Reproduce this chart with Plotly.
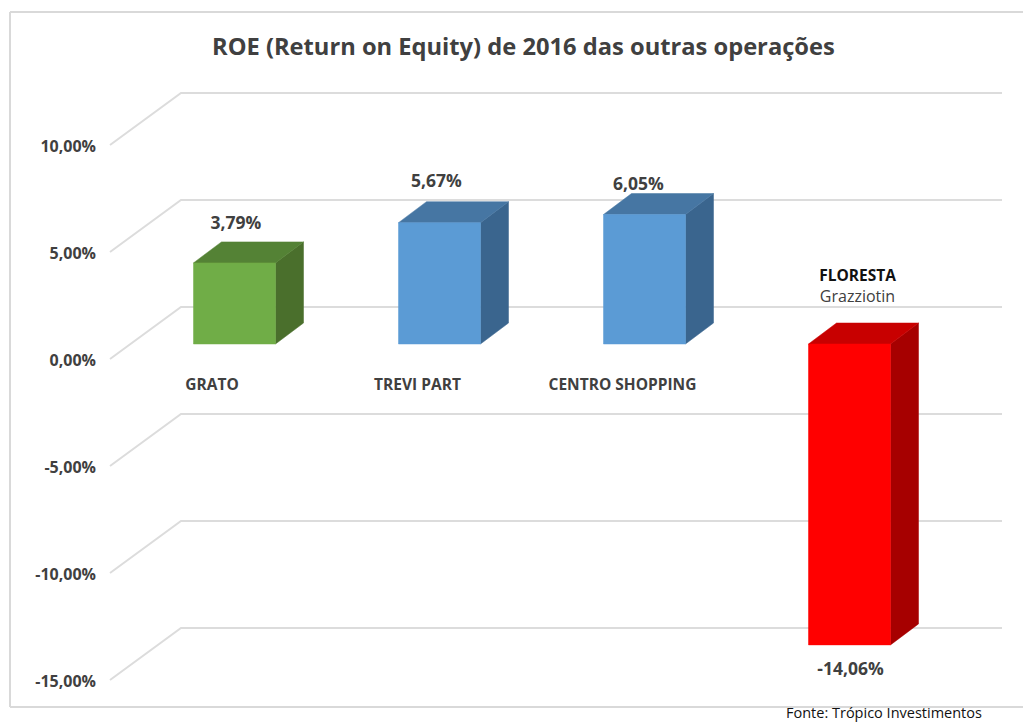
import plotly.graph_objects as go

# ---- data ----
categories = ["GRATO", "TREVI PART", "CENTRO SHOPPING", "FLORESTA"]
values = [3.79, 5.67, 6.05, -14.06]
value_labels = ["3,79%", "5,67%", "6,05%", "-14,06%"]
ticks = [10, 5, 0, -5, -10, -15]
tick_labels = ["10,00%", "5,00%", "0,00%", "-5,00%", "-10,00%", "-15,00%"]
front_colors = ["#70ad47", "#5b9bd5", "#5b9bd5", "#ff0000"]
top_colors = ["#548235", "#4676a3", "#4676a3", "#c80000"]
side_colors = ["#4a6f2c", "#3a658e", "#3a658e", "#a60000"]

# ---- scale of the page: 205 px per category, 21.4 px per percent ----
W, H = 1023, 722
PX_X, PX_Y = 205.0, 21.4
X0_PX, Y0_PX = 234.5, 344.0
dx = 1 / PX_X
dy = 1 / PX_Y
x_range = [-X0_PX * dx, (W - X0_PX) * dx]
y_range = [(Y0_PX - H) * dy, Y0_PX * dy]

BAR_HALF = 41 * dx
DEPTH_X, DEPTH_Y = 28 * dx, 21 * dy
GRID_FRONT_X, GRID_BACK_X, GRID_END_X = (110 - X0_PX) * dx, (181 - X0_PX) * dx, (1002 - X0_PX) * dx
GRID_FRONT_Y, GRID_BACK_Y = -15 * dy, 37 * dy

TXT = "#404040"
FONT = "Open Sans"
fig = go.Figure()

# gridlines on the floor/back wall
for t in ticks:
    fig.add_trace(go.Scatter(
        x=[GRID_FRONT_X, GRID_BACK_X, GRID_END_X],
        y=[t + GRID_FRONT_Y, t + GRID_BACK_Y, t + GRID_BACK_Y],
        mode="lines", line=dict(color="#dcdcdc", width=2), hoverinfo="skip"))


def face(xs, ys, color):
    fig.add_trace(go.Scatter(x=xs, y=ys, mode="lines", fill="toself", fillcolor=color,
                             line=dict(color=color, width=0.5), hoverinfo="skip"))


# 3D-looking bars
for i, v in enumerate(values):
    l, r = i - BAR_HALF, i + BAR_HALF
    hi = max(v, 0)
    lo = min(v, 0)
    face([r, r + DEPTH_X, r + DEPTH_X, r, r],
         [lo, lo + DEPTH_Y, hi + DEPTH_Y, hi, lo], side_colors[i])
    face([l, l + DEPTH_X, r + DEPTH_X, r, l],
         [hi, hi + DEPTH_Y, hi + DEPTH_Y, hi, hi], top_colors[i])
    face([l, r, r, l, l], [lo, lo, hi, hi, lo], front_colors[i])


def label(x, y, text, size, color=TXT, bold=True, pos="middle center"):
    t = f"<b>{text}</b>" if bold else text
    fig.add_trace(go.Scatter(x=[x], y=[y], mode="text", text=[t], textposition=pos,
                             textfont=dict(family=FONT, size=size, color=color),
                             hoverinfo="skip", cliponaxis=False))


# value-axis labels
for t, s in zip(ticks, tick_labels):
    label((96 - X0_PX) * dx, t + GRID_FRONT_Y - 3 * dy, s, 16, pos="middle left")

# data labels
label_gap_px = [17, 19, 8, 26]
label_shift_px = [1.5, -3, -6, 1]
for i, (v, s) in enumerate(zip(values, value_labels)):
    if v >= 0:
        y = v + DEPTH_Y + label_gap_px[i] * dy
    else:
        y = v - label_gap_px[i] * dy
    label(i + label_shift_px[i] * dx, y, s, 17.5)

# category labels
cat_shift_px = [-22.5, -22, -22, 8]
cat_y = (Y0_PX - 386) * dy
for i, c in enumerate(categories[:3]):
    label(i + cat_shift_px[i] * dx, cat_y, c, 15.5)
label(3 + cat_shift_px[3] * dx, (Y0_PX - 277) * dy, categories[3], 15.5, color="#111111")
label(3 + cat_shift_px[3] * dx, (Y0_PX - 298) * dy, "Grazziotin", 16, bold=False)

fig.update_layout(
    width=W, height=H, autosize=False,
    margin=dict(l=0, r=0, t=0, b=0),
    paper_bgcolor="white", plot_bgcolor="white", showlegend=False,
    xaxis=dict(visible=False, range=x_range, fixedrange=True),
    yaxis=dict(visible=False, range=y_range, fixedrange=True),
    annotations=[
        dict(text="<b>ROE (Return on Equity) de 2016 das outras operações</b>",
             x=523 / W, y=1 - 46 / H, xref="paper", yref="paper", showarrow=False,
             xanchor="center", yanchor="middle",
             font=dict(family=FONT, size=23.7, color=TXT)),
        dict(text="Fonte: Trópico Investimentos",
             x=884 / W, y=1 - 712 / H, xref="paper", yref="paper", showarrow=False,
             xanchor="center", yanchor="middle",
             font=dict(family=FONT, size=14.5, color="#111111")),
    ],
    shapes=[
        dict(type="line", xref="paper", yref="paper", x0=10 / W, x1=10 / W, y0=1 - 12 / H, y1=1 - 707 / H,
             line=dict(color="#d9d9d9", width=2)),
        dict(type="line", xref="paper", yref="paper", x0=10 / W, x1=1, y0=1 - 12 / H, y1=1 - 12 / H,
             line=dict(color="#d9d9d9", width=2)),
        dict(type="line", xref="paper", yref="paper", x0=10 / W, x1=1, y0=1 - 707 / H, y1=1 - 707 / H,
             line=dict(color="#d9d9d9", width=2)),
    ],
)
fig.write_html("out.html", config={"displayModeBar": False},
               post_script="document.body.style.margin='0';document.documentElement.style.overflow='hidden';")
